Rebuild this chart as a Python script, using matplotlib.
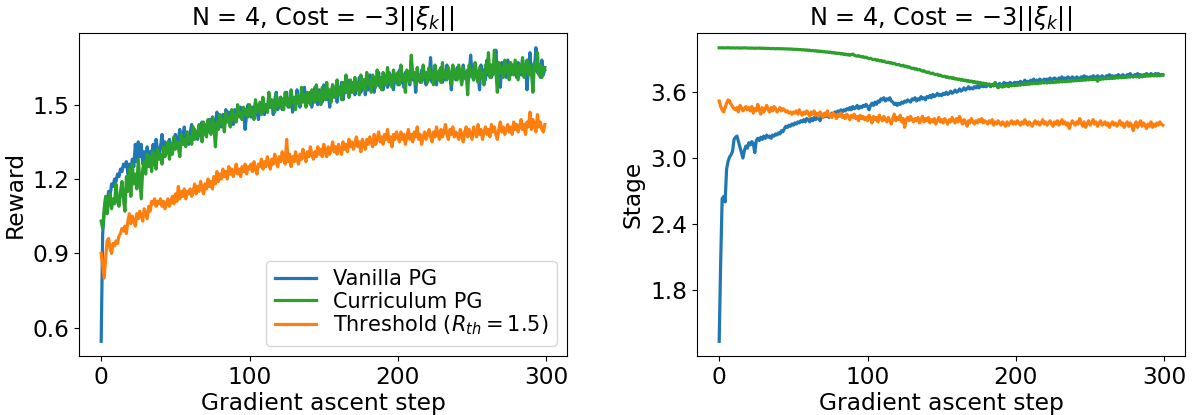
import matplotlib
matplotlib.use("Agg")
import matplotlib.pyplot as plt

steps = list(range(300))

reward_vanilla = [
0.545, 0.98, 1.06, 1.12, 1.10, 1.15, 1.13, 1.18, 1.17, 1.20, 1.19, 1.22, 1.21, 1.24, 1.23, 1.26, 1.25, 1.27, 1.22, 1.26,
1.24, 1.28, 1.25, 1.34, 1.27, 1.35, 1.29, 1.34, 1.26, 1.31, 1.28, 1.33, 1.27, 1.31, 1.30, 1.34, 1.29, 1.36, 1.32, 1.30,
1.33, 1.38, 1.31, 1.35, 1.33, 1.34, 1.36, 1.33, 1.34, 1.35, 1.38, 1.33, 1.36, 1.40, 1.35, 1.37, 1.41, 1.36, 1.38, 1.34,
1.39, 1.42, 1.37, 1.40, 1.38, 1.36, 1.41, 1.39, 1.43, 1.38, 1.40, 1.42, 1.39, 1.44, 1.41, 1.45, 1.40, 1.43, 1.47, 1.42,
1.44, 1.41, 1.46, 1.43, 1.48, 1.45, 1.47, 1.44, 1.46, 1.42, 1.48, 1.45, 1.47, 1.46, 1.49, 1.44, 1.48, 1.40, 1.46, 1.50,
1.47, 1.45, 1.49, 1.46, 1.51, 1.47, 1.44, 1.50, 1.48, 1.52, 1.46, 1.50, 1.47, 1.53, 1.49, 1.51, 1.46, 1.52, 1.55, 1.48,
1.50, 1.53, 1.48, 1.52, 1.50, 1.55, 1.49, 1.51, 1.54, 1.47, 1.52, 1.50, 1.56, 1.51, 1.49, 1.54, 1.52, 1.57, 1.50, 1.53,
1.51, 1.55, 1.49, 1.53, 1.57, 1.52, 1.50, 1.56, 1.53, 1.51, 1.58, 1.54, 1.52, 1.56, 1.49, 1.55, 1.58, 1.53, 1.55, 1.51,
1.57, 1.54, 1.59, 1.52, 1.56, 1.55, 1.60, 1.53, 1.57, 1.55, 1.59, 1.54, 1.58, 1.56, 1.61, 1.55, 1.57, 1.60, 1.54, 1.58,
1.56, 1.62, 1.57, 1.59, 1.55, 1.61, 1.58, 1.63, 1.57, 1.60, 1.56, 1.62, 1.59, 1.57, 1.63, 1.58, 1.61, 1.56, 1.62, 1.60,
1.58, 1.64, 1.59, 1.61, 1.57, 1.63, 1.60, 1.62, 1.58, 1.68, 1.60, 1.62, 1.55, 1.63, 1.61, 1.59, 1.64, 1.60, 1.62, 1.58,
1.63, 1.60, 1.69, 1.59, 1.62, 1.64, 1.58, 1.63, 1.61, 1.65, 1.59, 1.62, 1.60, 1.66, 1.61, 1.63, 1.56, 1.64, 1.62, 1.60,
1.65, 1.61, 1.63, 1.59, 1.66, 1.62, 1.60, 1.64, 1.61, 1.70, 1.62, 1.60, 1.65, 1.61, 1.63, 1.56, 1.66, 1.62, 1.64, 1.60,
1.68, 1.62, 1.64, 1.61, 1.66, 1.63, 1.72, 1.62, 1.65, 1.57, 1.67, 1.63, 1.65, 1.61, 1.68, 1.64, 1.62, 1.66, 1.63, 1.65,
1.61, 1.67, 1.64, 1.62, 1.68, 1.63, 1.66, 1.56, 1.65, 1.71, 1.62, 1.66, 1.64, 1.73, 1.63, 1.66, 1.61, 1.68, 1.62, 1.65]

reward_curriculum = [
1.03, 1.00, 1.08, 1.13, 1.06, 1.11, 1.14, 1.08, 1.12, 1.10, 1.18, 1.11, 1.09, 1.15, 1.19, 1.12, 1.07, 1.21, 1.15, 1.24,
1.13, 1.26, 1.18, 1.22, 1.16, 1.28, 1.20, 1.12, 1.24, 1.27, 1.22, 1.30, 1.25, 1.29, 1.23, 1.31, 1.27, 1.24, 1.32, 1.28,
1.30, 1.26, 1.33, 1.29, 1.31, 1.35, 1.28, 1.34, 1.30, 1.37, 1.32, 1.35, 1.33, 1.29, 1.38, 1.34, 1.36, 1.33, 1.39, 1.35,
1.37, 1.34, 1.41, 1.36, 1.39, 1.37, 1.42, 1.38, 1.35, 1.43, 1.39, 1.37, 1.44, 1.40, 1.38, 1.45, 1.41, 1.33, 1.43, 1.40,
1.46, 1.42, 1.44, 1.39, 1.47, 1.43, 1.45, 1.41, 1.48, 1.44, 1.46, 1.43, 1.50, 1.45, 1.47, 1.44, 1.49, 1.46, 1.48, 1.45,
1.50, 1.46, 1.48, 1.44, 1.52, 1.47, 1.49, 1.51, 1.46, 1.53, 1.48, 1.50, 1.47, 1.55, 1.49, 1.52, 1.50, 1.47, 1.54, 1.51,
1.49, 1.53, 1.51, 1.48, 1.55, 1.50, 1.52, 1.49, 1.56, 1.51, 1.53, 1.48, 1.54, 1.52, 1.50, 1.57, 1.51, 1.54, 1.49, 1.55,
1.52, 1.50, 1.56, 1.53, 1.51, 1.58, 1.52, 1.55, 1.50, 1.57, 1.54, 1.52, 1.59, 1.53, 1.56, 1.51, 1.58, 1.55, 1.53, 1.60,
1.54, 1.57, 1.52, 1.59, 1.55, 1.62, 1.56, 1.53, 1.60, 1.57, 1.55, 1.61, 1.56, 1.59, 1.54, 1.62, 1.57, 1.60, 1.56, 1.63,
1.58, 1.60, 1.55, 1.62, 1.59, 1.57, 1.64, 1.58, 1.61, 1.56, 1.63, 1.60, 1.58, 1.65, 1.59, 1.62, 1.57, 1.64, 1.61, 1.59,
1.63, 1.58, 1.66, 1.60, 1.62, 1.55, 1.64, 1.61, 1.59, 1.70, 1.61, 1.63, 1.58, 1.65, 1.60, 1.62, 1.59, 1.66, 1.61, 1.63,
1.59, 1.65, 1.61, 1.63, 1.58, 1.66, 1.62, 1.60, 1.64, 1.59, 1.67, 1.61, 1.63, 1.60, 1.65, 1.62, 1.58, 1.66, 1.61, 1.64,
1.60, 1.66, 1.62, 1.58, 1.65, 1.61, 1.63, 1.54, 1.66, 1.62, 1.64, 1.60, 1.67, 1.62, 1.59, 1.65, 1.61, 1.63, 1.58, 1.66,
1.63, 1.71, 1.61, 1.66, 1.62, 1.72, 1.64, 1.55, 1.67, 1.63, 1.65, 1.61, 1.68, 1.63, 1.66, 1.60, 1.67, 1.64, 1.62, 1.68,
1.64, 1.60, 1.66, 1.63, 1.69, 1.61, 1.65, 1.68, 1.62, 1.66, 1.63, 1.55, 1.67, 1.64, 1.71, 1.62, 1.66, 1.61, 1.65, 1.64]

reward_threshold = [
0.90, 0.85, 0.80, 0.88, 0.95, 0.96, 0.92, 0.90, 0.94, 0.93, 0.95, 0.94, 0.97, 0.98, 1.00, 0.99, 1.01, 0.98, 1.03, 1.06,
1.02, 1.05, 1.03, 1.01, 1.06, 1.04, 1.07, 1.05, 1.03, 1.08, 1.06, 1.04, 1.09, 1.07, 1.11, 1.10, 1.12, 1.09, 1.11, 1.10,
1.12, 1.09, 1.11, 1.08, 1.10, 1.12, 1.09, 1.11, 1.13, 1.10, 1.14, 1.11, 1.17, 1.12, 1.15, 1.13, 1.16, 1.12, 1.15, 1.14,
1.16, 1.13, 1.15, 1.18, 1.14, 1.17, 1.15, 1.19, 1.16, 1.14, 1.18, 1.16, 1.20, 1.17, 1.19, 1.16, 1.21, 1.18, 1.23, 1.19,
1.22, 1.20, 1.24, 1.21, 1.23, 1.20, 1.25, 1.22, 1.24, 1.21, 1.23, 1.26, 1.22, 1.24, 1.21, 1.25, 1.23, 1.26, 1.22, 1.25,
1.24, 1.26, 1.23, 1.27, 1.24, 1.22, 1.26, 1.25, 1.28, 1.24, 1.27, 1.25, 1.29, 1.26, 1.24, 1.28, 1.26, 1.30, 1.27, 1.25,
1.29, 1.27, 1.31, 1.28, 1.26, 1.36, 1.27, 1.30, 1.25, 1.29, 1.27, 1.31, 1.28, 1.26, 1.30, 1.28, 1.32, 1.29, 1.27, 1.31,
1.29, 1.33, 1.30, 1.28, 1.31, 1.29, 1.33, 1.30, 1.32, 1.29, 1.34, 1.31, 1.29, 1.33, 1.30, 1.32, 1.35, 1.31, 1.33, 1.30,
1.34, 1.32, 1.30, 1.35, 1.32, 1.34, 1.31, 1.36, 1.33, 1.35, 1.32, 1.34, 1.37, 1.33, 1.35, 1.31, 1.36, 1.34, 1.32, 1.36,
1.34, 1.37, 1.35, 1.33, 1.38, 1.34, 1.36, 1.39, 1.35, 1.37, 1.34, 1.38, 1.36, 1.40, 1.35, 1.37, 1.33, 1.38, 1.36, 1.39,
1.37, 1.35, 1.39, 1.36, 1.38, 1.34, 1.37, 1.40, 1.36, 1.38, 1.35, 1.39, 1.37, 1.41, 1.36, 1.38, 1.34, 1.37, 1.39, 1.36,
1.38, 1.40, 1.37, 1.35, 1.39, 1.37, 1.41, 1.38, 1.36, 1.40, 1.37, 1.39, 1.42, 1.38, 1.36, 1.40, 1.38, 1.41, 1.37, 1.39,
1.38, 1.36, 1.40, 1.38, 1.35, 1.39, 1.41, 1.37, 1.40, 1.38, 1.36, 1.41, 1.39, 1.37, 1.42, 1.38, 1.40, 1.36, 1.39, 1.41,
1.38, 1.40, 1.37, 1.42, 1.39, 1.41, 1.38, 1.36, 1.40, 1.43, 1.39, 1.41, 1.38, 1.40, 1.42, 1.39, 1.41, 1.38, 1.43, 1.40,
1.42, 1.39, 1.41, 1.44, 1.40, 1.42, 1.38, 1.43, 1.41, 1.47, 1.40, 1.44, 1.42, 1.39, 1.46, 1.41, 1.43, 1.40, 1.39, 1.42]

stage_vanilla = [
1.33, 2.05, 2.63, 2.65, 2.60, 2.90, 2.97, 3.01, 3.03, 3.06, 3.17, 3.19, 3.20, 3.15, 3.10, 3.05, 3.00, 3.07, 3.11, 3.09,
3.14, 3.12, 3.15, 3.13, 3.05, 3.16, 3.18, 3.16, 3.19, 3.17, 3.20, 3.18, 3.21, 3.19, 3.20, 3.18, 3.21, 3.20, 3.22, 3.21,
3.23, 3.22, 3.25, 3.24, 3.27, 3.29, 3.28, 3.30, 3.29, 3.31, 3.30, 3.32, 3.31, 3.33, 3.32, 3.34, 3.33, 3.35, 3.33, 3.36,
3.35, 3.33, 3.36, 3.34, 3.37, 3.35, 3.38, 3.36, 3.34, 3.38, 3.37, 3.39, 3.38, 3.40, 3.37, 3.39, 3.41, 3.40, 3.42, 3.41,
3.43, 3.41, 3.44, 3.42, 3.44, 3.43, 3.45, 3.44, 3.46, 3.44, 3.47, 3.45, 3.46, 3.48, 3.45, 3.47, 3.46, 3.48, 3.47, 3.49,
3.47, 3.44, 3.48, 3.50, 3.48, 3.51, 3.49, 3.52, 3.51, 3.54, 3.53, 3.55, 3.52, 3.54, 3.53, 3.55, 3.52, 3.51, 3.49, 3.50,
3.48, 3.50, 3.49, 3.51, 3.50, 3.52, 3.51, 3.53, 3.52, 3.51, 3.54, 3.53, 3.55, 3.52, 3.54, 3.53, 3.56, 3.54, 3.55, 3.53,
3.56, 3.55, 3.57, 3.55, 3.58, 3.56, 3.57, 3.59, 3.57, 3.58, 3.57, 3.59, 3.58, 3.60, 3.58, 3.59, 3.61, 3.59, 3.60, 3.62,
3.60, 3.61, 3.63, 3.61, 3.62, 3.64, 3.62, 3.63, 3.65, 3.63, 3.64, 3.63, 3.65, 3.64, 3.66, 3.64, 3.65, 3.67, 3.65, 3.66,
3.65, 3.67, 3.66, 3.65, 3.67, 3.66, 3.68, 3.66, 3.67, 3.68, 3.66, 3.67, 3.69, 3.67, 3.68, 3.67, 3.69, 3.68, 3.67, 3.69,
3.68, 3.69, 3.68, 3.70, 3.68, 3.69, 3.71, 3.69, 3.70, 3.69, 3.71, 3.70, 3.72, 3.70, 3.71, 3.70, 3.72, 3.71, 3.70, 3.72,
3.71, 3.72, 3.71, 3.73, 3.71, 3.72, 3.73, 3.72, 3.71, 3.73, 3.72, 3.74, 3.72, 3.73, 3.72, 3.74, 3.73, 3.72, 3.74, 3.73,
3.72, 3.74, 3.73, 3.72, 3.74, 3.73, 3.75, 3.73, 3.74, 3.72, 3.74, 3.73, 3.75, 3.74, 3.73, 3.75, 3.74, 3.73, 3.75, 3.74,
3.73, 3.75, 3.74, 3.76, 3.74, 3.75, 3.73, 3.75, 3.74, 3.76, 3.75, 3.74, 3.76, 3.75, 3.74, 3.76, 3.75, 3.77, 3.75, 3.74,
3.76, 3.75, 3.77, 3.75, 3.76, 3.74, 3.76, 3.75, 3.77, 3.76, 3.75, 3.77, 3.76, 3.75, 3.77, 3.76, 3.77, 3.75, 3.76, 3.76]

stage_curriculum = [
4.005, 4.004, 4.006, 4.003, 4.005, 4.004, 4.006, 4.004, 4.003, 4.005, 4.004, 4.003, 4.005, 4.004, 4.002, 4.004, 4.003, 4.005, 4.003, 4.002,
4.003, 4.001, 4.003, 4.002, 4.000, 4.002, 4.001, 4.003, 4.000, 4.002, 3.999, 4.001, 3.998, 4.000, 3.999, 3.997, 3.999, 3.998, 3.996, 3.998,
3.996, 3.998, 3.995, 3.997, 3.994, 3.996, 3.993, 3.995, 3.992, 3.994, 3.990, 3.992, 3.989, 3.991, 3.987, 3.989, 3.985, 3.988, 3.983, 3.986,
3.981, 3.984, 3.978, 3.981, 3.976, 3.979, 3.973, 3.977, 3.970, 3.974, 3.968, 3.971, 3.965, 3.968, 3.962, 3.966, 3.958, 3.963, 3.955, 3.959,
3.952, 3.956, 3.948, 3.953, 3.944, 3.949, 3.940, 3.945, 3.936, 3.943, 3.948, 3.938, 3.932, 3.928, 3.934, 3.926, 3.921, 3.925, 3.915, 3.920,
3.912, 3.905, 3.910, 3.902, 3.896, 3.900, 3.891, 3.895, 3.886, 3.890, 3.880, 3.884, 3.876, 3.870, 3.874, 3.866, 3.870, 3.860, 3.864, 3.855,
3.850, 3.854, 3.845, 3.840, 3.846, 3.834, 3.838, 3.828, 3.832, 3.822, 3.816, 3.820, 3.810, 3.814, 3.804, 3.808, 3.798, 3.792, 3.796, 3.786,
3.781, 3.785, 3.775, 3.770, 3.774, 3.765, 3.760, 3.764, 3.752, 3.756, 3.748, 3.742, 3.746, 3.736, 3.740, 3.730, 3.735, 3.726, 3.732, 3.720,
3.724, 3.716, 3.720, 3.710, 3.716, 3.705, 3.711, 3.700, 3.706, 3.696, 3.702, 3.690, 3.698, 3.686, 3.694, 3.680, 3.690, 3.676, 3.684, 3.672,
3.680, 3.668, 3.676, 3.662, 3.672, 3.658, 3.690, 3.660, 3.640, 3.652, 3.668, 3.646, 3.660, 3.655, 3.664, 3.650, 3.668, 3.658, 3.666, 3.660,
3.668, 3.662, 3.672, 3.664, 3.675, 3.668, 3.678, 3.670, 3.680, 3.672, 3.682, 3.676, 3.684, 3.678, 3.686, 3.680, 3.688, 3.682, 3.700, 3.684,
3.690, 3.684, 3.692, 3.686, 3.694, 3.688, 3.696, 3.690, 3.698, 3.692, 3.700, 3.694, 3.702, 3.696, 3.704, 3.698, 3.706, 3.700, 3.708, 3.702,
3.710, 3.704, 3.712, 3.706, 3.714, 3.708, 3.716, 3.710, 3.718, 3.712, 3.720, 3.714, 3.722, 3.716, 3.724, 3.700, 3.722, 3.716, 3.726, 3.720,
3.728, 3.722, 3.730, 3.724, 3.732, 3.726, 3.734, 3.728, 3.736, 3.730, 3.738, 3.732, 3.740, 3.734, 3.742, 3.736, 3.744, 3.738, 3.746, 3.740,
3.746, 3.740, 3.748, 3.736, 3.750, 3.742, 3.752, 3.744, 3.754, 3.746, 3.756, 3.748, 3.758, 3.750, 3.756, 3.748, 3.758, 3.752, 3.757, 3.755]

stage_threshold = [
3.52, 3.47, 3.44, 3.42, 3.46, 3.50, 3.53, 3.52, 3.49, 3.47, 3.45, 3.44, 3.46, 3.42, 3.48, 3.46, 3.43, 3.45, 3.47, 3.44,
3.46, 3.43, 3.47, 3.41, 3.45, 3.43, 3.49, 3.44, 3.40, 3.46, 3.42, 3.45, 3.48, 3.44, 3.42, 3.46, 3.43, 3.47, 3.45, 3.42,
3.44, 3.46, 3.43, 3.45, 3.44, 3.42, 3.43, 3.41, 3.42, 3.40, 3.42, 3.41, 3.43, 3.40, 3.44, 3.41, 3.39, 3.42, 3.40, 3.43,
3.41, 3.38, 3.42, 3.40, 3.43, 3.39, 3.41, 3.38, 3.42, 3.40, 3.37, 3.41, 3.39, 3.43, 3.38, 3.40, 3.37, 3.41, 3.39, 3.36,
3.40, 3.38, 3.41, 3.37, 3.39, 3.36, 3.40, 3.38, 3.35, 3.39, 3.37, 3.40, 3.36, 3.38, 3.34, 3.39, 3.36, 3.38, 3.35, 3.37,
3.34, 3.39, 3.36, 3.32, 3.38, 3.35, 3.37, 3.33, 3.39, 3.36, 3.34, 3.38, 3.35, 3.33, 3.37, 3.34, 3.31, 3.36, 3.40, 3.34,
3.37, 3.35, 3.39, 3.33, 3.36, 3.28, 3.35, 3.37, 3.34, 3.38, 3.35, 3.33, 3.36, 3.34, 3.37, 3.32, 3.35, 3.38, 3.33, 3.36,
3.34, 3.37, 3.32, 3.35, 3.33, 3.36, 3.31, 3.34, 3.37, 3.33, 3.35, 3.32, 3.36, 3.34, 3.31, 3.35, 3.33, 3.37, 3.34, 3.32,
3.36, 3.33, 3.38, 3.34, 3.31, 3.35, 3.33, 3.29, 3.34, 3.32, 3.36, 3.33, 3.31, 3.34, 3.32, 3.35, 3.33, 3.36, 3.32, 3.34,
3.33, 3.31, 3.34, 3.32, 3.35, 3.30, 3.33, 3.31, 3.34, 3.32, 3.30, 3.33, 3.31, 3.29, 3.33, 3.30, 3.32, 3.34, 3.31, 3.33,
3.31, 3.34, 3.32, 3.30, 3.33, 3.31, 3.35, 3.32, 3.30, 3.33, 3.31, 3.29, 3.32, 3.34, 3.31, 3.33, 3.30, 3.32, 3.35, 3.31,
3.33, 3.30, 3.32, 3.34, 3.31, 3.29, 3.33, 3.31, 3.34, 3.30, 3.32, 3.35, 3.31, 3.33, 3.30, 3.32, 3.27, 3.31, 3.34, 3.32,
3.30, 3.33, 3.31, 3.36, 3.32, 3.29, 3.33, 3.28, 3.31, 3.34, 3.30, 3.32, 3.35, 3.31, 3.33, 3.29, 3.32, 3.34, 3.30, 3.31,
3.33, 3.30, 3.32, 3.28, 3.31, 3.33, 3.30, 3.32, 3.29, 3.31, 3.34, 3.30, 3.32, 3.28, 3.31, 3.33, 3.29, 3.32, 3.30, 3.25,
3.30, 3.33, 3.28, 3.31, 3.34, 3.29, 3.32, 3.30, 3.27, 3.31, 3.29, 3.33, 3.28, 3.31, 3.29, 3.32, 3.30, 3.33, 3.31, 3.30]

labels = ["Vanilla PG", "Curriculum PG", r"Threshold ($R_{th} = 1.5$)"]
colors = ["#1f77b4", "#2ca02c", "#ff7f0e"]
title = r"N = 4, Cost = $-3||\xi_k||$"
reward_ticks = [0.6, 0.9, 1.2, 1.5]
stage_ticks = [1.8, 2.4, 3.0, 3.6]
xticks = [0, 100, 200, 300]

fs_tick, fs_lab, fs_title, fs_leg = 16.75, 16.8, 17.3, 15

W, H = 1197, 415
fig = plt.figure(figsize=(W / 100, H / 100), dpi=100)
ax1 = fig.add_axes([79 / W, (H - 356) / H, (567 - 79) / W, (356 - 33) / H])
ax2 = fig.add_axes([697 / W, (H - 356) / H, (1185 - 697) / W, (356 - 33) / H])

lw = 2.3
for ys, lab, c in zip([reward_vanilla, reward_curriculum, reward_threshold], labels, colors):
    ax1.plot(steps, ys, color=c, lw=lw, label=lab)
for ys, c in zip([stage_vanilla, stage_curriculum, stage_threshold], colors):
    ax2.plot(steps, ys, color=c, lw=lw)

ax1.set_yticks(reward_ticks)
ax2.set_yticks(stage_ticks)
for ax, yl in [(ax1, "Reward"), (ax2, "Stage")]:
    ax.set_xticks(xticks)
    ax.tick_params(labelsize=fs_tick)
    ax.set_xlabel("Gradient ascent step", fontsize=fs_lab, labelpad=2)
    ax.set_ylabel(yl, fontsize=fs_lab, labelpad=4)
    ax.set_title(title, fontsize=fs_title, pad=6)

ax1.legend(loc="lower right", fontsize=fs_leg, labelspacing=0.1,
           handlelength=2.0, handletextpad=0.8, borderpad=0.4)

fig.savefig("out.png", dpi=100)
